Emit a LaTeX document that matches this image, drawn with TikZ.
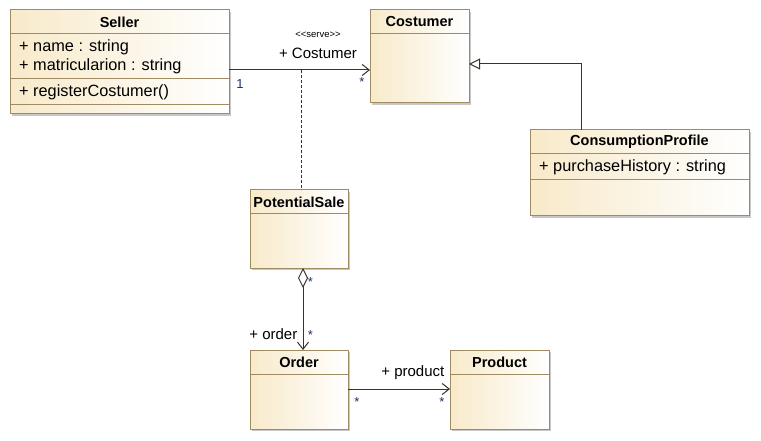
\documentclass[tikz,border=0pt]{standalone}
\usepackage{fontspec}
\setmainfont{Liberation Sans}
\usetikzlibrary{arrows.meta,calc}
\definecolor{boxedge}{HTML}{A08C62}
\definecolor{boxfill}{HTML}{F8EACA}
\definecolor{multc}{HTML}{1E2F6E}
\definecolor{linec}{HTML}{3A3329}
\tikzset{
  umlbox/.style={draw=boxedge, line width=1pt, left color=boxfill, right color=white,
    rectangle, inner sep=0pt, outer sep=0pt, anchor=north west,
    preaction={fill=black!22, transform canvas={xshift=1.6pt,yshift=-1.6pt}}},
  sep/.style={draw=boxedge, line width=1pt},
  title/.style={font=\fontsize{14.5}{17}\selectfont\bfseries, inner sep=0pt, anchor=center},
  member/.style={font=\fontsize{16.3}{18}\selectfont, inner sep=0pt, anchor=west},
  lbl/.style={font=\fontsize{15}{17}\selectfont, inner sep=0pt},
  small/.style={font=\fontsize{9.5}{11}\selectfont, inner sep=0pt},
  mult/.style={font=\fontsize{13}{15}\selectfont, inner sep=0pt, text=multc},
  conn/.style={draw=linec, line width=1pt},
  openarrow/.style={conn, -{Straight Barb[length=7pt,width=11pt,line width=1pt]}},
  genarrow/.style={conn, -{Triangle[open,length=11pt,width=11pt,line width=1pt,fill=white]}},
  aggr/.style={conn, {Diamond[open,length=20pt,width=10pt,line width=1pt,fill=white]}-{Straight Barb[length=7pt,width=11pt,line width=1pt]}},
  dashedline/.style={draw=linec, line width=1pt, dash pattern=on 3pt off 2pt},
}
\begin{document}
\begin{tikzpicture}[x=1pt,y=-1pt]
\useasboundingbox (0,0) rectangle (761,441);
\fill[white] (0,0) rectangle (761,441);

% boxes
\node[umlbox, minimum width=219pt, minimum height=104pt] (seller) at (10,10) {};
\node[umlbox, minimum width=99pt, minimum height=93pt] (costumer) at (370,10) {};
\node[umlbox, minimum width=219pt, minimum height=86pt] (cp) at (530,130) {};
\node[umlbox, minimum width=98pt, minimum height=78pt] (ps) at (250,190) {};
\node[umlbox, minimum width=98pt, minimum height=79pt] (order) at (250,350) {};
\node[umlbox, minimum width=99pt, minimum height=79pt] (product) at (450,350) {};

% compartments
\draw[sep] ($(seller.north west)+(0,24)$) -- ($(seller.north east)+(0,24)$);
\draw[sep] ($(seller.north west)+(0,69)$) -- ($(seller.north east)+(0,69)$);
\draw[sep] ($(seller.north west)+(0,95)$) -- ($(seller.north east)+(0,95)$);
\draw[sep] ($(costumer.north west)+(0,24)$) -- ($(costumer.north east)+(0,24)$);
\draw[sep] ($(cp.north west)+(0,24)$) -- ($(cp.north east)+(0,24)$);
\draw[sep] ($(cp.north west)+(0,50)$) -- ($(cp.north east)+(0,50)$);
\draw[sep] ($(ps.north west)+(0,24)$) -- ($(ps.north east)+(0,24)$);
\draw[sep] ($(order.north west)+(0,24)$) -- ($(order.north east)+(0,24)$);
\draw[sep] ($(product.north west)+(0,24)$) -- ($(product.north east)+(0,24)$);

% titles
\node[title] (tseller) at ($(seller.north)+(0,12)$) {Seller};
\node[title] (tcostumer) at ($(costumer.north)+(0,12)$) {Costumer};
\node[title] (tcp) at ($(cp.north)+(0,12)$) {ConsumptionProfile};
\node[title] (tps) at ($(ps.north)+(0,12)$) {PotentialSale};
\node[title] (torder) at ($(order.north)+(0,12)$) {Order};
\node[title] (tproduct) at ($(product.north)+(0,12)$) {Product};

% members
\node[member] (m1) at ($(seller.north west)+(9,37)$) {+ name : string};
\node[member] (m2) at ($(seller.north west)+(9,56)$) {+ matricularion : string};
\node[member] (m3) at ($(seller.north west)+(9,82)$) {+ registerCostumer()};
\node[member] (m4) at ($(cp.north west)+(9,37)$) {+ purchaseHistory : string};

% association Seller -> Costumer
\coordinate (a1) at ($(seller.north east)+(0,60)$);
\draw[openarrow] (a1) -- (a1 -| costumer.west);
\coordinate (amid) at ($(a1)+(72,0)$);
\draw[dashedline] (amid) -- (amid |- ps.north);
\node[small] (serve) at (318,35) {{<}{<}serve{>}{>}};
\node[lbl] (rcost) at (318,53.5) {+ Costumer};
\node[mult] (m1a) at (240,84) {1};
\node[mult] (m1b) at (362,82) {*};

% generalization
\coordinate (g1) at ($(cp.north west)+(51,0)$);
\draw[genarrow] (g1) |- ($(costumer.north east)+(0,54)$);

% aggregation PotentialSale -> Order
\draw[aggr] ($(ps.south)+(4,0)$) -- ($(order.north)+(4,0)$);
\node[mult] (m2a) at (310.5,282) {*};
\node[lbl, anchor=east] (rorder) at (297.5,334) {+ order};
\node[mult] (m2b) at (310.5,335) {*};

% association Order -> Product
\coordinate (o1) at ($(order.north east)+(0,39)$);
\draw[openarrow] (o1) -- (o1 -| product.west);
\node[lbl, anchor=east] (rprod) at (444.5,373) {+ product};
\node[mult] (m3a) at (357,402) {*};
\node[mult] (m3b) at (442,402) {*};
\end{tikzpicture}
\end{document}
